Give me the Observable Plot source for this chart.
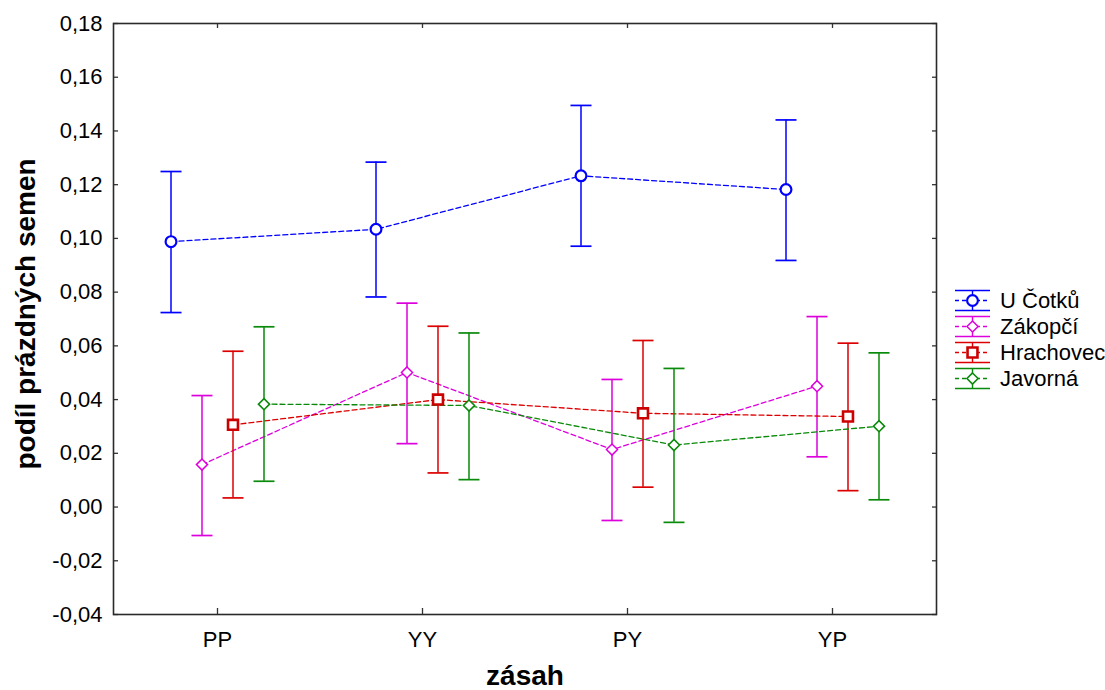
<!DOCTYPE html>
<html><head><meta charset="utf-8">
<script src="https://cdn.jsdelivr.net/npm/d3@7"></script>
<script src="https://cdn.jsdelivr.net/npm/@observablehq/plot@0.6"></script>
<style>
body{margin:0;background:#fff;}
#wrap{position:relative;width:1105px;height:690px;font-family:"Liberation Sans",Arial,sans-serif;}
</style></head><body><div id="wrap"></div>
<script>
// ---- data ----
const categories = ["PP", "YY", "PY", "YP"];
const seriesNames = ["U Čotků", "Zákopčí", "Hrachovec", "Javorná"];
const meanUCotku = [0.0988, 0.1034, 0.1233, 0.1182];
const lowUCotku  = [0.0724, 0.0782, 0.0971, 0.0918];
const highUCotku = [0.1249, 0.1284, 0.1495, 0.1441];
const meanZakopci = [0.0158, 0.0501, 0.0214, 0.0450];
const lowZakopci  = [-0.0106, 0.0236, -0.0050, 0.0187];
const highZakopci = [0.0415, 0.0759, 0.0475, 0.0709];
const meanHrachovec = [0.0306, 0.0400, 0.0349, 0.0337];
const lowHrachovec  = [0.0034, 0.0127, 0.0074, 0.0061];
const highHrachovec = [0.0580, 0.0673, 0.0620, 0.0610];
const meanJavorna = [0.0383, 0.0378, 0.0231, 0.0301];
const lowJavorna  = [0.0096, 0.0102, -0.0057, 0.0027];
const highJavorna = [0.0671, 0.0648, 0.0516, 0.0574];
const yTicks = [-0.04, -0.02, 0, 0.02, 0.04, 0.06, 0.08, 0.10, 0.12, 0.14, 0.16, 0.18];
const yLabel = "podíl prázdných semen";
const xLabel = "zásah";

// ---- styles ----
const seriesData = [
  {name: seriesNames[0], mean: meanUCotku, low: lowUCotku, high: highUCotku},
  {name: seriesNames[1], mean: meanZakopci, low: lowZakopci, high: highZakopci},
  {name: seriesNames[2], mean: meanHrachovec, low: lowHrachovec, high: highHrachovec},
  {name: seriesNames[3], mean: meanJavorna, low: lowJavorna, high: highJavorna}
];
const styles = [
  {color: "#0000ff", bar: "#0000ff", symbol: "circle", r: 5.4, sw: 2.2, dx: -46.5},
  {color: "#dd00dd", bar: "#dd00dd", symbol: "diamond2", r: 5.0, sw: 1.5, dx: -15.5},
  {color: "#dd0000", bar: "#dd0000", symbol: "square", r: 5.6, sw: 2.6, markerStroke: "#cc0000", dx: 15.5},
  {color: "#0a8a0a", bar: "#0a8a0a", symbol: "diamond2", r: 5.0, sw: 1.6, dx: 46.5}
];
const capHalf = 10.5;
const capSymbol = {draw(ctx) { ctx.moveTo(-capHalf, 0); ctx.lineTo(capHalf, 0); }};
const fmt = v => d3.format(".2f")(v).replace(".", ",").replace("\u2212", "-");

const marks = [];
seriesData.forEach((s, k) => {
  const st = styles[k];
  const rows = categories.map((c, i) => ({cat: c, mean: s.mean[i], low: s.low[i], high: s.high[i]}));
  marks.push(Plot.line(rows, {x: "cat", y: "mean", dx: st.dx, stroke: st.color, strokeWidth: 1.3, strokeDasharray: "5,3"}));
  marks.push(Plot.ruleX(rows, {x: "cat", y1: "low", y2: "high", dx: st.dx, stroke: st.bar, strokeWidth: 1.5}));
  marks.push(Plot.dot(rows, {x: "cat", y: "low", dx: st.dx, symbol: capSymbol, r: 3, fill: "none", stroke: st.bar, strokeWidth: 1.7}));
  marks.push(Plot.dot(rows, {x: "cat", y: "high", dx: st.dx, symbol: capSymbol, r: 3, fill: "none", stroke: st.bar, strokeWidth: 1.7}));
});
seriesData.forEach((s, k) => {
  const st = styles[k];
  const rows = categories.map((c, i) => ({cat: c, mean: s.mean[i]}));
  marks.push(Plot.dot(rows, {x: "cat", y: "mean", dx: st.dx, symbol: st.symbol, r: st.r, fill: "white", stroke: st.markerStroke || st.color, strokeWidth: st.sw}));
});

const plot = Plot.plot({
  width: 1105, height: 690,
  marginLeft: 113, marginRight: 169, marginTop: 23, marginBottom: 76,
  style: {fontFamily: '"Liberation Sans", Arial, sans-serif', fontSize: "22px", color: "#000", background: "#fff"},
  x: {type: "point", domain: categories, padding: 0.5},
  y: {domain: [-0.04, 0.18]},
  marks: [
    Plot.axisY({ticks: yTicks, anchor: "left", tickSize: 0, tickPadding: 11, tickFormat: fmt, label: null, fontSize: 22}),
    Plot.axisY({ticks: yTicks, anchor: "left", tickSize: 5, dx: 5, text: null, label: null, stroke: "#333", strokeWidth: 1.3}),
    Plot.axisY({ticks: yTicks, anchor: "right", tickSize: 5, dx: -5, text: null, label: null, stroke: "#333", strokeWidth: 1.3}),
    Plot.axisX({anchor: "bottom", tickSize: 0, tickPadding: 17, label: null, fontSize: 22}),
    Plot.axisX({anchor: "bottom", tickSize: 6, dy: -6, text: null, label: null, stroke: "#333", strokeWidth: 1.3}),
    Plot.axisX({anchor: "top", tickSize: 4, dy: 4, text: null, label: null, stroke: "#333", strokeWidth: 1.3}),
    ...marks,
    Plot.frame({stroke: "#2a2a2a", strokeWidth: 1.6}),
    Plot.text([yLabel], {frameAnchor: "left", dx: -87, dy: -5, rotate: -90, fontSize: 28, fontWeight: "bold", textAnchor: "middle", lineAnchor: "middle"}),
    Plot.text([xLabel], {frameAnchor: "bottom", dy: 62, fontSize: 28, fontWeight: "bold", textAnchor: "middle", lineAnchor: "middle"})
  ]
});
document.getElementById("wrap").appendChild(plot);

// ---- legend (inside the SVG, right of the plot frame) ----
const svg = d3.select(plot);
const lg = svg.append("g").attr("font-family", '"Liberation Sans", Arial, sans-serif').attr("font-size", 22).attr("text-anchor", "start");
const lx0 = 955, lx1 = 990, lxc = 972.5, ly0 = 300.5, lstep = 26, textX = 1000;
const symMap = {circle: d3.symbolCircle, diamond2: d3.symbolDiamond2, square: d3.symbolSquare};
seriesNames.forEach((name, k) => {
  const st = styles[k];
  const y = ly0 + k * lstep;
  const g = lg.append("g");
  g.append("line").attr("x1", lx0).attr("x2", lx1).attr("y1", y - 10).attr("y2", y - 10).attr("stroke", st.bar).attr("stroke-width", 1.6);
  g.append("line").attr("x1", lx0).attr("x2", lx1).attr("y1", y + 10).attr("y2", y + 10).attr("stroke", st.bar).attr("stroke-width", 1.6);
  g.append("line").attr("x1", lxc).attr("x2", lxc).attr("y1", y - 10).attr("y2", y + 10).attr("stroke", st.bar).attr("stroke-width", 1.4);
  g.append("line").attr("x1", lx0).attr("x2", lx1).attr("y1", y).attr("y2", y).attr("stroke", st.color).attr("stroke-width", 1.3).attr("stroke-dasharray", "4,3");
  g.append("path").attr("transform", `translate(${lxc},${y})`)
    .attr("d", d3.symbol(symMap[st.symbol], Math.PI * st.r * st.r)())
    .attr("fill", "white").attr("stroke", st.markerStroke || st.color).attr("stroke-width", st.sw);
  g.append("text").attr("x", textX).attr("y", y).attr("dy", "0.35em").attr("text-anchor", "start").attr("fill", "#000").text(name);
});
</script>
</body></html>
